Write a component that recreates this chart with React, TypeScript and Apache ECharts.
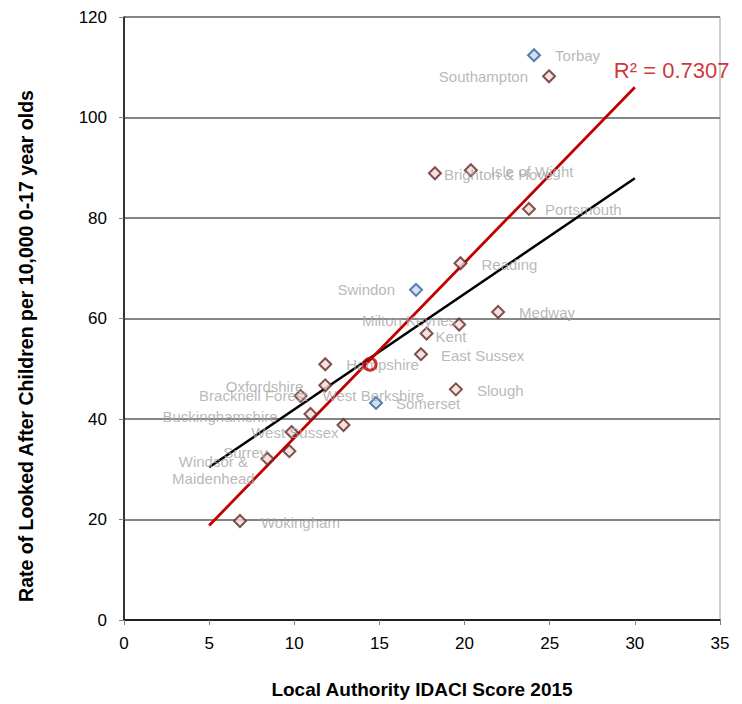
import React, { useEffect, useRef } from "react";
import * as echarts from "echarts";

// ---- data ----
const authorities = [
  "Torbay", "Southampton", "Brighton & Hove", "Isle of Wight", "Portsmouth",
  "Reading", "Swindon", "Medway", "Milton Keynes", "Kent", "East Sussex",
  "Hampshire", "Slough", "Somerset", "Oxfordshire", "West Berkshire",
  "Bracknell Forest", "Buckinghamshire", "West Sussex", "Surrey",
  "Windsor &\nMaidenhead", "Wokingham",
];
const idaciScore = [
  24.08, 24.96, 18.26, 20.37, 23.78, 19.76, 17.15, 21.97, 19.68, 17.77, 17.44,
  11.82, 19.49, 14.8, 11.82, 10.37, 10.95, 9.84, 12.89, 9.71, 8.42, 6.81,
];
const lacRate = [
  112.4, 108.2, 88.9, 89.5, 81.8, 71.0, 65.7, 61.3, 58.8, 57.0, 52.9,
  50.9, 45.9, 43.2, 46.7, 44.6, 41.0, 37.4, 38.8, 33.6, 32.1, 19.7,
];
const highlighted = ["Torbay", "Swindon", "Somerset"];
const averagePoint = [14.45, 50.9];
const redTrend = [[5, 18.8], [30, 106.0]];
const blackTrend = [[5, 30.4], [30, 87.9]];
const rSquaredText = "R² = 0.7307";
const xTicks = { min: 0, max: 35, interval: 5 };
const yTicks = { min: 0, max: 120, interval: 20 };

// label placement (style only): [dx, dy, align]
const labelPlacement: Record<string, [number, number, string]> = {
  "Torbay": [21, 0, "left"],
  "Southampton": [-21, 0, "right"],
  "Brighton & Hove": [9, 1, "left"],
  "Isle of Wight": [20, 1, "left"],
  "Portsmouth": [16, 1, "left"],
  "Reading": [21, 1, "left"],
  "Swindon": [-21, 0, "right"],
  "Medway": [21, 1, "left"],
  "Milton Keynes": [-3, -4, "right"],
  "Kent": [9, 3, "left"],
  "East Sussex": [20, 1, "left"],
  "Hampshire": [21, 0, "left"],
  "Slough": [21, 1, "left"],
  "Somerset": [20, 1, "left"],
  "Oxfordshire": [-22, 1, "right"],
  "West Berkshire": [22, 0, "left"],
  "Bracknell Forest": [-3, -18, "right"],
  "Buckinghamshire": [-14, -16, "right"],
  "West Sussex": [-5, 7, "right"],
  "Surrey": [-22, 1, "right"],
  "Windsor &\nMaidenhead": [-54, 11, "center"],
  "Wokingham": [21, 1, "left"],
};

const FONT = "'Liberation Sans', Arial, sans-serif";

export default function App() {
  const ref = useRef<HTMLDivElement>(null);
  useEffect(() => {
    if (!ref.current) return;
    const chart = echarts.init(ref.current, undefined, { renderer: "svg" });

    const points = authorities.map((name, i) => {
      const blue = highlighted.includes(name);
      const pl = labelPlacement[name] || [21, 0, "left"];
      return {
        name,
        value: [idaciScore[i], lacRate[i]],
        itemStyle: blue
          ? { color: "#c6d9f1", borderColor: "#2f5f9a", borderWidth: 2 }
          : { color: "#f2dcdb", borderColor: "#632523", borderWidth: 2 },
        label: {
          show: true,
          formatter: name,
          position: "inside",
          align: pl[2],
          verticalAlign: "middle",
          offset: [pl[0], pl[1]],
          color: "#a6a6a6",
          fontSize: 15,
          lineHeight: 17,
          fontFamily: FONT,
        },
      };
    });

    chart.setOption({
      animation: false,
      backgroundColor: "#ffffff",
      grid: {
        left: 124, top: 17, right: 22, bottom: 83,
        show: true, borderColor: "#a0a0a0", borderWidth: 1,
        backgroundColor: "transparent",
      },
      xAxis: {
        type: "value",
        min: xTicks.min, max: xTicks.max, interval: xTicks.interval,
        name: "Local Authority IDACI Score 2015",
        nameLocation: "middle",
        nameGap: 60,
        nameTextStyle: { fontFamily: FONT, fontWeight: "bold", fontSize: 19, color: "#000" },
        axisLine: { show: true, onZero: false, lineStyle: { color: "#000", width: 1.5 } },
        axisTick: { show: true, inside: false, length: 5, lineStyle: { color: "#808080" } },
        axisLabel: { fontFamily: FONT, fontSize: 17, color: "#000", margin: 15 },
        splitLine: { show: false },
      },
      yAxis: {
        type: "value",
        min: yTicks.min, max: yTicks.max, interval: yTicks.interval,
        axisLine: { show: true, onZero: false, lineStyle: { color: "#000", width: 1.5 } },
        axisTick: { show: true, inside: false, length: 5, lineStyle: { color: "#808080" } },
        axisLabel: { fontFamily: FONT, fontSize: 17, color: "#000", margin: 17 },
        splitLine: { show: true, lineStyle: { color: "#868686", width: 2 } },
      },
      graphic: [
        {
          type: "text",
          x: 26,
          y: 346,
          rotation: Math.PI / 2,
          style: {
            text: "Rate of Looked After Children per 10,000 0-17 year olds",
            font: `bold 19.5px ${FONT}`,
            fill: "#000",
            textAlign: "center",
            textVerticalAlign: "middle",
          },
        },
      ],
      series: [
        {
          type: "line",
          data: blackTrend,
          symbol: "none",
          lineStyle: { color: "#000000", width: 2.5 },
          z: 2,
        },
        {
          type: "line",
          data: redTrend,
          symbol: "none",
          lineStyle: { color: "#c00000", width: 2.8 },
          z: 2,
        },
        {
          type: "scatter",
          data: points,
          symbol: "diamond",
          symbolSize: 12,
          z: 3,
        },
        {
          type: "scatter",
          data: [averagePoint],
          symbol: "circle",
          symbolSize: 12,
          itemStyle: { color: "rgba(255,255,255,0)", borderColor: "#c00000", borderWidth: 3 },
          z: 4,
        },
        {
          type: "scatter",
          data: [redTrend[1]],
          symbolSize: 1,
          itemStyle: { color: "rgba(0,0,0,0)" },
          label: {
            show: true,
            formatter: rSquaredText,
            position: "inside",
            align: "left",
            verticalAlign: "middle",
            offset: [-21, -17],
            color: "#c00000",
            fontSize: 22,
            fontFamily: FONT,
          },
          z: 5,
        },
      ],
    });
    return () => chart.dispose();
  }, []);
  return (
    <div
      ref={ref}
      style={{ position: "fixed", left: 0, top: 0, width: 742, height: 704 }}
    />
  );
}
